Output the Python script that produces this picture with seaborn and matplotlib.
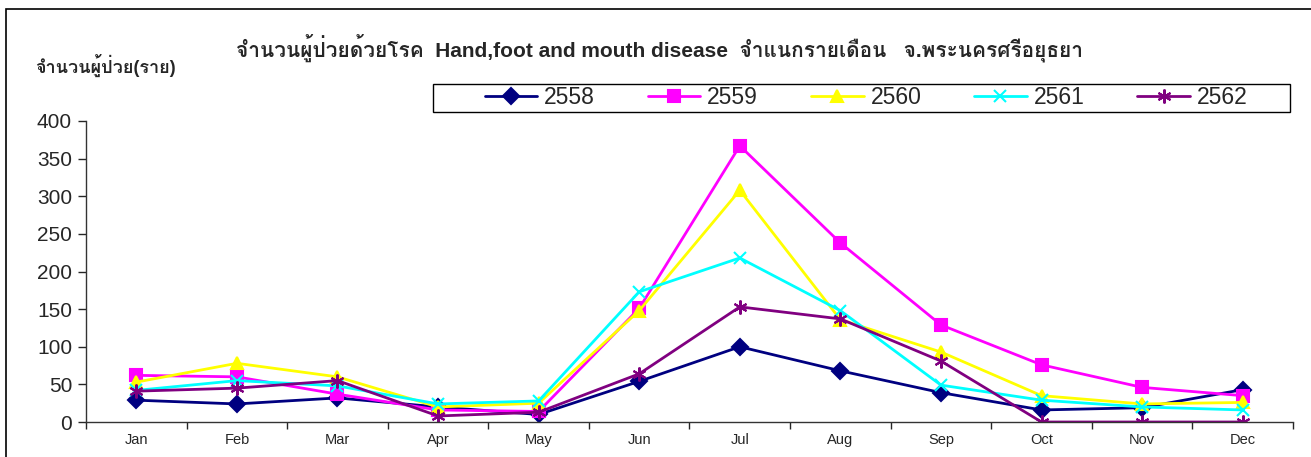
import pandas as pd
import seaborn as sns
import matplotlib.pyplot as plt
from matplotlib import font_manager, ft2font

# Data
months = ['Jan', 'Feb', 'Mar', 'Apr', 'May', 'Jun',
          'Jul', 'Aug', 'Sep', 'Oct', 'Nov', 'Dec']
years = ['2558', '2559', '2560', '2561', '2562']
y2558 = [29, 24, 32, 20, 10, 54, 100, 68, 39, 16, 19, 43]
y2559 = [62, 60, 37, 16, 14, 151, 367, 238, 129, 76, 46, 35]
y2560 = [53, 78, 60, 20, 25, 148, 308, 136, 93, 35, 24, 26]
y2561 = [42, 55, 48, 24, 28, 173, 218, 148, 49, 29, 20, 16]
y2562 = [41, 45, 55, 8, 13, 64, 153, 137, 81, 0, 0, 0]

colors = {'2558': '#000080', '2559': '#FF00FF', '2560': '#FFFF00',
          '2561': '#00FFFF', '2562': '#800080'}
markers = {'2558': 'D', '2559': 's', '2560': '^', '2561': 'x', '2562': (6, 2, 0)}
msizes = {'2558': 8, '2559': 9, '2560': 9, '2561': 9, '2562': 10}

df = pd.DataFrame({
    'month': months * 5,
    'idx': list(range(12)) * 5,
    'year': [y for y in years for _ in months],
    'cases': y2558 + y2559 + y2560 + y2561 + y2562,
})

sns.set_style('white')

# find an installed font that has Thai glyphs
thai = None
for f in font_manager.fontManager.ttflist:
    try:
        if ft2font.FT2Font(f.fname).get_char_index(0x0E08):
            thai = f.name
            break
    except Exception:
        pass
fam = ['Liberation Sans', 'DejaVu Sans']
if thai:
    fam = ['Liberation Sans', thai, 'DejaVu Sans']
plt.rcParams['font.family'] = fam

fig = plt.figure(figsize=(13.11, 4.57), dpi=100)
ax = fig.add_axes([86 / 1311, 35 / 457, (1293 - 86) / 1311, (422 - 121) / 457])

# one call per year so filled and line markers can be mixed
for y in years:
    sns.lineplot(data=df[df['year'] == y], x='idx', y='cases',
                 color=colors[y], marker=markers[y], markersize=msizes[y],
                 markeredgewidth=1.5, markeredgecolor=colors[y],
                 markerfacecolor=colors[y], linewidth=2, ax=ax, label=y,
                 legend=False)

ax.set_xlim(-0.5, 11.5)
ax.set_ylim(0, 400)
ax.set_yticks(range(0, 401, 50))
ax.tick_params(axis='y', labelsize=15, direction='out', length=6, width=1,
               left=True, pad=4)
ax.set_xticks([i - 0.5 for i in range(13)])
ax.set_xticklabels([])
ax.set_xticks(range(12), minor=True)
ax.set_xticklabels(months, minor=True)
ax.tick_params(axis='x', which='major', direction='out', length=5, width=1, bottom=True)
ax.tick_params(axis='x', which='minor', length=0, labelsize=10.5, pad=8)
ax.set_xlabel('')
ax.set_ylabel('')
for s in ['top', 'right']:
    ax.spines[s].set_visible(False)
for s in ['left', 'bottom']:
    ax.spines[s].set_color('#333333')
    ax.spines[s].set_linewidth(1)

# legend: frame drawn separately so its width matches the reference box
handles = [plt.Line2D([], [], color=colors[y], marker=markers[y], markersize=msizes[y],
                      markeredgewidth=1.5, linewidth=2) for y in years]
fig.legend(handles, years, loc='center', ncol=5,
           bbox_to_anchor=(866 / 1311, 1 - 98 / 457),
           frameon=False, handlelength=2.3, columnspacing=2.3, handletextpad=0.3,
           borderpad=0.1, prop={'size': 16.5})
fig.patches.append(plt.Rectangle((433 / 1311, 1 - 112 / 457), (1290 - 433) / 1311,
                                 28 / 457, transform=fig.transFigure, fill=False,
                                 edgecolor='black', linewidth=1))

fig.text(0.503, 1 - 48 / 457,
         'จำนวนผู้ป่วยด้วยโรค  Hand,foot and mouth disease  จำแนกรายเดือน   จ.พระนครศรีอยุธยา',
         ha='center', va='center', fontsize=15, fontweight='bold')
fig.text(105 / 1311, 1 - 65 / 457, 'จำนวนผู้ป่วย(ราย)',
         ha='center', va='center', fontsize=13, fontweight='bold')

# outer chart border
fig.patches.append(plt.Rectangle((6 / 1311, -0.1), 1.2, 0.1 + 448 / 457,
                                 transform=fig.transFigure, fill=False,
                                 edgecolor='black', linewidth=1.2))

fig.savefig('out.png', dpi=100)
